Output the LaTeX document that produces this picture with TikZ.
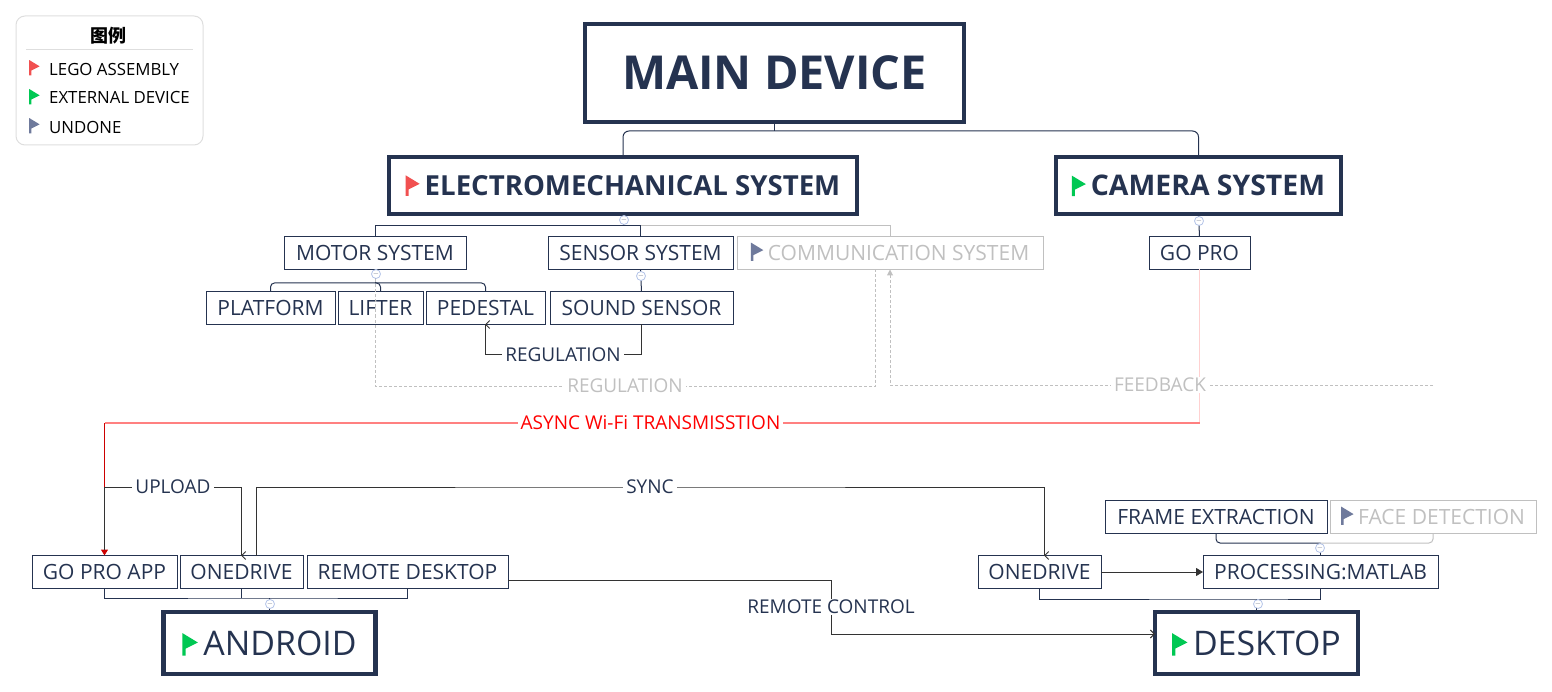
\documentclass[tikz,border=0pt]{standalone}
\usepackage{fontspec}
\usepackage{xcolor}
\usetikzlibrary{arrows.meta,positioning,calc}
\setmainfont{Open Sans}
\newfontfamily\cjkfont{Noto Sans CJK SC}
\definecolor{inkblue}{HTML}{253350}
\definecolor{flagred}{HTML}{F15050}
\definecolor{flaggreen}{HTML}{00C853}
\definecolor{flagslate}{HTML}{6F7A9C}
\definecolor{fadegray}{HTML}{C0C0C0}
\definecolor{foldblue}{HTML}{B4C4E8}
\newcommand{\fsize}[1]{\fontsize{#1}{#1}\selectfont}
\newcommand{\flagmark}[2]{\smash{\tikz[baseline=0pt,x=#2pt,y=#2pt,line width=0pt]{\fill[#1] (0,-0.5) -- (0,20) -- (14,11.5) -- (3,6) -- (3,-0.5) -- cycle;}}\kern\dimexpr #2pt*5\relax}

\begin{document}
\begin{tikzpicture}[x=1pt,y=-1pt,
    rootbox/.style={rectangle, draw=inkblue, fill=white, line width=4.5pt, outer sep=0pt, text=inkblue,
                  minimum width=#1, minimum height=57pt, inner sep=0pt},
    leafbox/.style={rectangle, draw=inkblue, fill=white, line width=1pt, outer sep=0pt, text=inkblue,
                  minimum width=#1, minimum height=33pt, inner sep=0pt, font=\fsize{21}},
    fadebox/.style={leafbox=#1, draw=fadegray, text=fadegray},
    tree/.style={line width=1pt, inkblue},
    fadetree/.style={line width=1pt, fadegray},
    barb/.style={-{Straight Barb[length=4pt,width=8pt]}, line width=1pt, black!80},
    fadearr/.style={-{Triangle[length=6pt,width=6pt]}, line width=1pt, fadegray, densely dashed},
    fold/.style={circle, draw=foldblue, fill=white, line width=0.8pt, minimum size=9pt, inner sep=0pt,
                 text=inkblue!70, font=\fsize{7}},
    linklabel/.style={fill=white, inner xsep=3pt, inner ysep=1pt, text=inkblue, font=\fsize{19}},
    legendtext/.style={anchor=west, inner sep=0pt, text=black, font=\fsize{16.8}}
]
\useasboundingbox (0,0) rectangle (1552,692);

% legend
\node[rectangle, draw=black!13, rounded corners=9pt, line width=1pt, minimum width=187pt, minimum height=129pt] (legend) at (109.5,80.5) {};
\node[inner sep=0pt, font=\cjkfont\bfseries\fsize{18}] (legendtitle) at (108,36) {图例};
\coordinate (ruleleft) at (26,50);
\coordinate (ruleright) at (193,50);
\draw[black!13, line width=1pt] (ruleleft) -- (ruleright);
\node[legendtext] (legendlego) at (29,69) {\flagmark{flagred}{0.75}\kern 5.75pt LEGO ASSEMBLY};
\node[legendtext] (legendext) at (29,98) {\flagmark{flaggreen}{0.75}\kern 5.75pt EXTERNAL DEVICE};
\node[legendtext] (legendundone) at (29,127) {\flagmark{flagslate}{0.75}\kern 5.75pt UNDONE};

% upper tree
\node[rootbox=379pt, minimum height=98pt, font=\bfseries\fsize{46.8}] (main) at (774.5,73) {MAIN DEVICE};
\node[rootbox=468pt, font=\bfseries\fsize{27.6}] (electro) at (623,185.5) {\flagmark{flagred}{1}ELECTROMECHANICAL SYSTEM};
\node[rootbox=285pt, font=\bfseries\fsize{28.4}] (camera) at (1198.5,185.5) {\flagmark{flaggreen}{1}CAMERA SYSTEM};

\node[leafbox=182pt] (motor) at (375,253) {MOTOR SYSTEM};
\node[leafbox=185pt] (sensor) at (640.5,253) {SENSOR SYSTEM};
\node[fadebox=306pt, right=4pt of sensor] (comm) {\flagmark{flagslate}{0.9}COMMUNICATION SYSTEM};
\node[leafbox=101pt] (gopro) at (1199.5,253) {GO PRO};

\node[leafbox=129pt] (platform) at (270.5,308) {PLATFORM};
\node[leafbox=85pt, right=3pt of platform] (lifter) {LIFTER};
\node[leafbox=119pt, right=3pt of lifter] (pedestal) {PEDESTAL};
\node[leafbox=183pt, right=5pt of pedestal] (sound) {SOUND SENSOR};

% lower rows
\node[leafbox=145pt] (goproapp) at (104.5,572) {GO PRO APP};
\node[leafbox=123pt, right=3pt of goproapp] (driveleft) {ONEDRIVE};
\node[leafbox=201pt, right=4pt of driveleft] (remote) {REMOTE DESKTOP};
\node[rootbox=212pt, minimum height=62pt, font=\fsize{33.9}] (android) at (269.5,643) {\flagmark{flaggreen}{1.1}ANDROID};

\node[leafbox=123pt] (driveright) at (1039.5,572) {ONEDRIVE};
\node[leafbox=235pt] (matlab) at (1320.5,572) {PROCESSING:MATLAB};
\node[leafbox=222pt] (frames) at (1216,517) {FRAME EXTRACTION};
\node[fadebox=206pt, right=3pt of frames] (faces) {\flagmark{flagslate}{0.9}FACE DETECTION};
\node[rootbox=203pt, minimum height=62pt, font=\fsize{33.9}] (desktop) at (1256.5,643) {\flagmark{flaggreen}{1.1}DESKTOP};

% tree lines
\coordinate (mainbus) at (774.5,131);
\draw[tree, rounded corners=6pt] (electro.north) |- (mainbus) -| (camera.north);
\draw[tree] (main.south) -- (mainbus);
\coordinate (electrobus) at (623,226);
\draw[fadetree] (electrobus) -| (comm.north);
\draw[tree] (motor.north) |- (electrobus) -- (electro.south);
\draw[tree] (electrobus) -| (sensor.north);
\draw[tree] (camera.south) -- (gopro.north);
\coordinate (motorbus) at (375,283);
\draw[tree, rounded corners=4pt] (platform.north) |- (motorbus) -| (pedestal.north);
\draw[tree, rounded corners=4pt] (motorbus) -| (lifter.north);
\draw[tree] (motor.south) -- (motorbus);
\draw[tree] (sensor.south) -- (sound.north);
\coordinate (androidbus) at (269.5,598);
\draw[tree] (goproapp.south) |- (androidbus) -| (remote.south);
\draw[tree] (driveleft.south) -- (driveleft.south |- androidbus);
\draw[tree] (androidbus) -- (android.north);
\coordinate (desktopbus) at (1256.5,599);
\draw[tree] (driveright.south) |- (desktopbus) -| (matlab.south);
\draw[tree] (desktopbus) -- (desktop.north);
\coordinate (matlabbus) at (1320.5,543);
\draw[fadetree, rounded corners=4pt] (matlabbus) -| (faces.south);
\draw[tree, rounded corners=4pt] (frames.south) |- (matlabbus);
\draw[tree] (matlabbus) -- (matlab.north);

% links
\coordinate (fadeend) at (1433,385);
\draw[fadearr] ([xshift=-15pt]comm.south) |- (375,386) -- (motor.south);
\draw[fadearr] (fadeend) -| (comm.south);
\draw[barb] (sound.south) |- (485.5,355) -- (pedestal.south) -- ++(-0.5,0);
\draw[red!18, line width=1pt] (gopro.south) -- (1199.5,423);
\draw[red!50, line width=1.2pt] (1199.5,423) -- (104.5,423);
\draw[-{Triangle[length=6pt,width=7pt]}, red!80!black, line width=1pt] (104.5,423) -- (goproapp.north);
\draw[barb, shorten <=6pt] (goproapp.north) |- (241.5,487) -- (driveleft.north) -- ++(-0.5,0);
\draw[barb] ([xshift=15pt]driveleft.north) |- (650,487) -| ([xshift=5pt]driveright.north) -- ++(-0.5,0);
\draw[barb] (remote.east |- 0,580) -| (831,606) |- (desktop.west |- 0,634);
\draw[-{Triangle[length=7pt,width=8pt]}, black!80, line width=1pt] (driveright) -- (matlab);

% link labels
\node[linklabel] (reglabel) at (563,355) {REGULATION};
\node[linklabel, text=fadegray] (fadereg) at (625,386) {REGULATION};
\node[linklabel, text=fadegray] (feedback) at (1160,385) {FEEDBACK};
\node[linklabel, text=red] (asynclabel) at (650.5,423) {ASYNC Wi-Fi TRANSMISSTION};
\node[linklabel] (uploadlabel) at (173,487) {UPLOAD};
\node[linklabel] (synclabel) at (650,487) {SYNC};
\node[linklabel] (remotelabel) at (831,607) {REMOTE CONTROL};

% fold marks
\foreach \foldname/\foldx/\foldy in {e/624/220, c/1199/221, m/376/274, s/641/276, a/270/604, d/1258/604, p/1320/548}
  \node[fold] (fold\foldname) at (\foldx,\foldy) {$-$};
\end{tikzpicture}
\end{document}
